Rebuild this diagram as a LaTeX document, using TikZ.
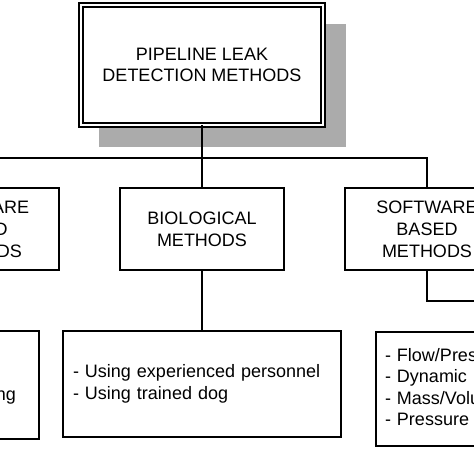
\documentclass[tikz,border=0pt]{standalone}
\usepackage{fontspec}
\setmainfont{Liberation Sans}
\tikzset{
  lvlbox/.style={draw, line width=1.4pt, fill=white, minimum width=164pt, minimum height=82pt,
    inner sep=0pt, outer sep=0pt, align=center, font=\fontsize{18}{22}\selectfont},
  detailbox/.style={draw, line width=1.4pt, fill=white, inner ysep=0pt, outer sep=0pt,
    align=left, font=\fontsize{18}{21.5}\selectfont},
  conn/.style={line width=1.4pt},
  txt/.style={font=\fontsize{18}{22}\selectfont, inner sep=0pt},
}
\begin{document}
\begin{tikzpicture}[x=1pt,y=1pt]
\useasboundingbox (0,0) rectangle (474,-474);
\clip (0,0) rectangle (474,-474);
\fill[white] (0,0) rectangle (474,-474);
% shadow of the title box
\fill[black!33] (99,-24) rectangle (346,-147);
% title
\node[draw, double, double distance=2.5pt, line width=1.5pt, fill=white,
      minimum width=242pt, minimum height=120pt, inner sep=0pt, outer sep=0pt,
      align=center, font=\fontsize{18}{21}\selectfont] (root) at (202,-65)
      {PIPELINE LEAK\\DETECTION METHODS};
% level 2
\node[lvlbox] (hw) at (-23,-229) {HARDWARE\\BASED\\METHODS};
\node[lvlbox] (bio) at (202,-229) {BIOLOGICAL\\METHODS};
\node[lvlbox] (sw) at (427,-229) {SOFTWARE\\BASED\\METHODS};
\coordinate (bus) at (202,-158);
\draw[conn] (root.south) -- (bio.north);
\draw[conn] (hw.north) |- (bus) -| (sw.north);
% details
\node[detailbox, text width=258pt, minimum height=106pt, inner xsep=10pt] (biod) at (202,-384)
  {- Using experienced personnel\\- Using trained dog};
\node[detailbox, minimum width=278pt, minimum height=108pt] (hwd) at (-100,-385) {};
\node[txt, anchor=base east] (hwtext) at (16,-400) {ng};
\node[detailbox, text width=260pt, minimum height=114pt, inner xsep=9pt] (swd) at (515,-389)
  {- Flow/Pressure Change\\- Dynamic Modeling\\- Mass/Volume Balance\\- Pressure Point Analysis};
\draw[conn] (bio.south) -- (biod.north);
\coordinate (swbend) at (480,-301);
\draw[conn] (sw.south) |- (swbend);
\end{tikzpicture}
\end{document}
